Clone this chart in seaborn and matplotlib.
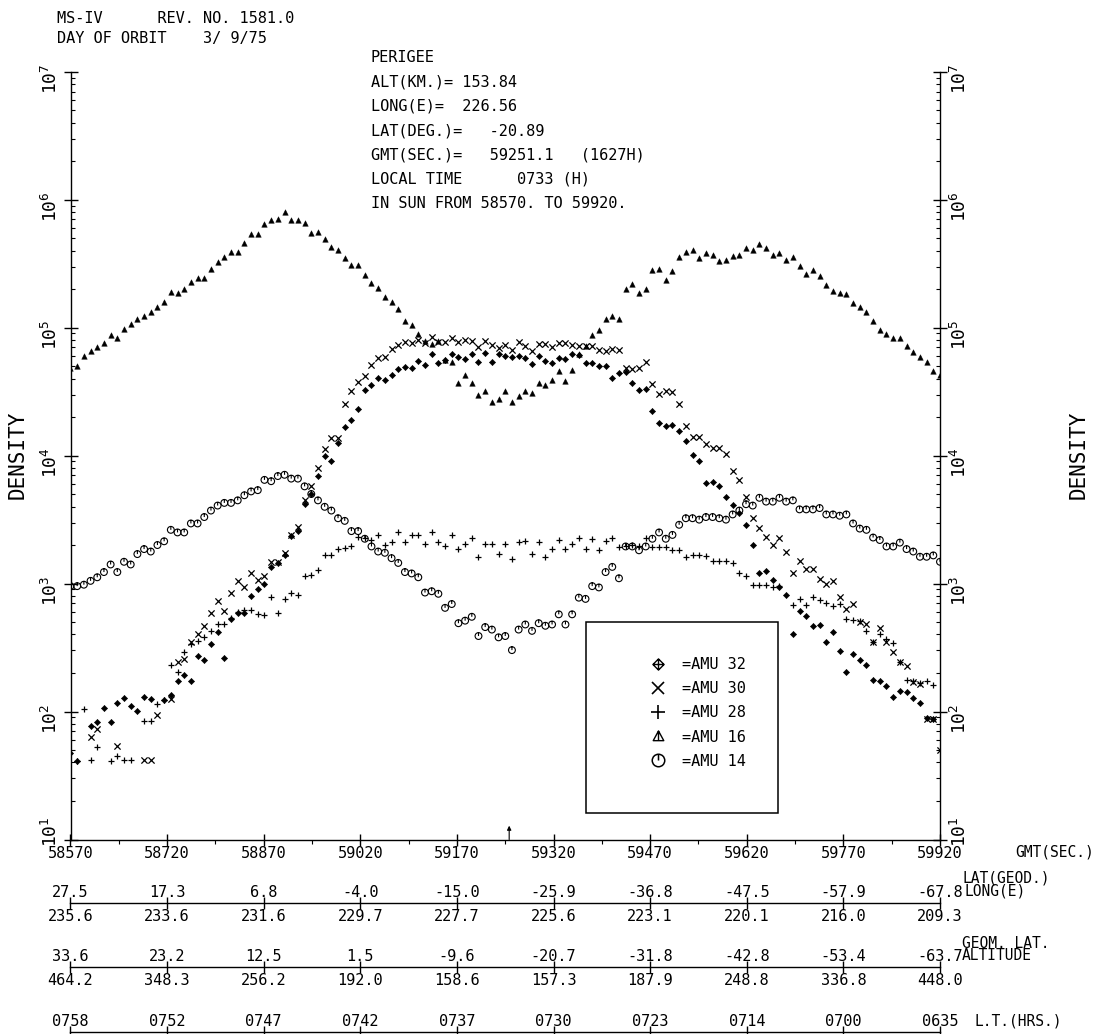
import numpy as np
import matplotlib
matplotlib.use("Agg")
import matplotlib.pyplot as plt
import seaborn as sns
from matplotlib.path import Path
from matplotlib.lines import Line2D
from matplotlib.patches import Rectangle
from matplotlib.transforms import ScaledTranslation
from matplotlib.ticker import FixedLocator, FuncFormatter, LogLocator, NullFormatter

nan = np.nan

# ---------------------------------------------------------------- data
# sample times (GMT seconds), one mass-spectrometer cycle every ~10.4 s
GMT_SEC = np.linspace(58570.0, 59920.0, 131)

AMU_16 = [4.8e4, 5.0e4, 6.0e4, 6.6e4, 7.1e4, 7.6e4, 8.7e4, 8.3e4, 9.8e4, 1.07e5,
          1.17e5, 1.23e5, 1.32e5, 1.45e5, 1.58e5, 1.91e5, 1.86e5, 2.0e5, 2.29e5, 2.45e5,
          2.45e5, 2.88e5, 3.24e5, 3.55e5, 3.89e5, 3.89e5, 4.57e5, 5.37e5, 5.37e5, 6.46e5,
          6.92e5, 7.08e5, 7.94e5, 6.92e5, 6.92e5, 6.61e5, 5.50e5, 5.62e5, 4.90e5, 4.27e5,
          4.07e5, 3.47e5, 3.09e5, 3.09e5, 2.57e5, 2.24e5, 2.04e5, 1.74e5, 1.58e5, 1.41e5,
          1.12e5, 1.05e5, 8.9e4, 7.8e4, 7.4e4, 7.8e4, 5.6e4, 5.4e4, 3.7e4, 4.3e4,
          3.7e4, 3.0e4, 3.2e4, 2.6e4, 2.75e4, 3.2e4, 2.6e4, 2.9e4, 3.2e4, 3.1e4,
          3.7e4, 3.55e4, 3.9e4, 4.6e4, 3.8e4, 4.7e4, 6.2e4, 7.2e4, 8.7e4, 9.5e4,
          1.17e5, 1.23e5, 1.17e5, 2.0e5, 2.19e5, 1.86e5, 2.0e5, 2.82e5, 2.88e5, 2.34e5,
          2.75e5, 3.55e5, 3.89e5, 4.07e5, 3.47e5, 3.80e5, 3.72e5, 3.31e5, 3.39e5, 3.63e5,
          3.72e5, 4.17e5, 4.07e5, 4.47e5, 4.17e5, 3.72e5, 3.80e5, 3.39e5, 3.55e5, 3.02e5,
          2.63e5, 2.82e5, 2.51e5, 2.14e5, 1.95e5, 1.86e5, 1.82e5, 1.55e5, 1.45e5, 1.32e5,
          1.12e5, 9.5e4, 8.9e4, 8.3e4, 8.3e4, 7.2e4, 6.5e4, 5.9e4, 5.4e4, 4.6e4,
          4.3e4]

AMU_14 = [955, 955, 980, 1050, 1120, 1230, 1410, 1230, 1480, 1410,
          1700, 1860, 1780, 2000, 2140, 2630, 2510, 2510, 2950, 2950,
          3310, 3720, 4070, 4270, 4270, 4470, 4900, 5250, 5370, 6460,
          6310, 6920, 7080, 6610, 6610, 5750, 5010, 4470, 3980, 3720,
          3240, 3090, 2570, 2570, 2240, 1950, 1780, 1740, 1580, 1450,
          1230, 1200, 1120, 851, 871, 832, 646, 692, 490, 513,
          550, 389, 457, 437, 380, 389, 302, 437, 479, 427,
          490, 468, 479, 575, 479, 575, 776, 759, 955, 933,
          1230, 1350, 1100, 1950, 1950, 1820, 1950, 2240, 2510, 2240,
          2400, 2880, 3240, 3240, 3160, 3310, 3310, 3240, 3160, 3470,
          3720, 4170, 4070, 4680, 4370, 4370, 4680, 4370, 4470, 3800,
          3800, 3800, 3890, 3470, 3470, 3390, 3470, 2950, 2690, 2630,
          2290, 2190, 1950, 1950, 2090, 1860, 1780, 1620, 1620, 1660,
          1480]

AMU_32 = [47, 41, nan, 77, 83, 107, 83, 117, 127, 111,
          101, 130, 126, nan, 123, 135, 172, 194, 174, 273,
          254, 339, 415, 261, 525, 589, 589, 794, 912, 1000,
          1340, 1450, 1680, 2360, 2570, 4170, 5010, 6920, 10000, 9120,
          12600, 16600, 19100, 23200, 32400, 35500, 40300, 38900, 42700, 47300,
          49000, 48200, 55000, 51300, 61700, 52500, 56200, 62400, 58900, 57000,
          61700, 53700, 63100, 54300, 61700, 60300, 59400, 60300, 57500, 52000,
          60300, 55300, 52500, 57500, 57000, 62400, 61200, 52500, 52500, 50500,
          49700, 40700, 44100, 44700, 36800, 32400, 33100, 22400, 17900, 16900,
          17200, 15600, 13000, 10100, 9140, 6080, 6270, 5830, 4790, 4120,
          3550, 2880, 2010, 1200, 1260, 1060, 948, 817, 405, 612,
          553, 462, 476, 347, 415, 299, 202, 282, 251, 232,
          175, 172, 157, 129, 144, 141, 127, 116, 89, 87,
          nan]

AMU_30 = [nan, nan, nan, 63, 73, nan, nan, 54, nan, nan,
          nan, 42, 42, 94, nan, 125, 243, 258, 347, 405,
          468, 594, 733, 612, 851, 1050, 933, 1220, 1070, 1140,
          1480, 1480, 1730, 2400, 2790, 4460, 5740, 8040, 11200, 13800,
          13800, 25400, 32100, 37400, 42000, 51200, 57700, 59400, 67800, 73300,
          76900, 76400, 80200, 76400, 85100, 77800, 77800, 82600, 76900, 80200,
          78500, 70800, 78500, 73300, 69000, 73300, 67000, 76900, 71900, 65800,
          74600, 74600, 70300, 76400, 76400, 73300, 71900, 71900, 71900, 67000,
          65800, 67800, 67000, 48200, 47600, 48800, 53700, 36100, 30300, 32100,
          31300, 25200, 17100, 14100, 13900, 12400, 11400, 11400, 10300, 7620,
          6500, 4790, 3240, 2710, 2310, 2010, 2260, 1750, 1210, 1490,
          1300, 1300, 1080, 995, 1050, 783, 631, 695, 500, 485,
          347, 449, 347, 294, 246, 225, 169, 164, 87, 87,
          50]

AMU_28 = [nan, 41, 104, 42, 53, nan, 41, 45, 42, 42,
          nan, 84, 85, 115, 124, 232, 202, 290, 340, 353,
          381, 423, 485, 485, 540, 600, 624, 617, 581, 570,
          792, 587, 755, 841, 817, 1150, 1170, 1280, 1660, 1660,
          1860, 1890, 1950, 2310, 2260, 2200, 2400, 2010, 2130, 2550,
          2130, 2400, 2400, 2050, 2510, 2130, 1950, 2400, 1860, 2050,
          2260, 1610, 2050, 2050, 1710, 2050, 1550, 2130, 2170, 1710,
          2100, 1610, 1860, 2200, 1860, 2050, 2260, 1860, 2220, 1820,
          2160, 2260, 1930, 1950, 1990, 1950, 2260, 1930, 1930, 1930,
          1820, 1820, 1610, 1680, 1680, 1630, 1510, 1510, 1510, 1450,
          1220, 1140, 977, 977, 977, 938, 960, nan, 682, 755,
          682, 792, 738, 703, 670, 695, 527, 521, 506, 428,
          350, 400, 368, 343, 246, 177, 172, 167, 172, 160,
          nan]

GMT_TICKS = [58570, 58720, 58870, 59020, 59170, 59320, 59470, 59620, 59770, 59920]
LAT_GEOD = [27.5, 17.3, 6.8, -4.0, -15.0, -25.9, -36.8, -47.5, -57.9, -67.8]
LONG_E = [235.6, 233.6, 231.6, 229.7, 227.7, 225.6, 223.1, 220.1, 216.0, 209.3]
GEOM_LAT = [33.6, 23.2, 12.5, 1.5, -9.6, -20.7, -31.8, -42.8, -53.4, -63.7]
ALTITUDE = [464.2, 348.3, 256.2, 192.0, 158.6, 157.3, 187.9, 248.8, 336.8, 448.0]
LOCAL_TIME = ["0758", "0752", "0747", "0742", "0737", "0730", "0723", "0714", "0700", "0635"]
PERIGEE_GMT = 59251.1

HEADER = ["MS-IV      REV. NO. 1581.0", "DAY OF ORBIT    3/ 9/75"]
INFO = ["PERIGEE",
        "ALT(KM.)= 153.84",
        "LONG(E)=  226.56",
        "LAT(DEG.)=   -20.89",
        "GMT(SEC.)=   59251.1   (1627H)",
        "LOCAL TIME      0733 (H)",
        "IN SUN FROM 58570. TO 59920."]
LEGEND_LABELS = ["=AMU 32", "=AMU 30", "=AMU 28", "=AMU 16", "=AMU 14"]

# ---------------------------------------------------------------- style
sns.set_theme(style="white")
plt.rcParams["font.family"] = ["DejaVu Sans Mono", "DejaVu Sans"]
plt.rcParams.update({
    "mathtext.fontset": "custom",
    "mathtext.rm": "DejaVu Sans Mono",
    "mathtext.it": "DejaVu Sans Mono",
    "text.color": "black",
    "axes.edgecolor": "black",
    "axes.labelcolor": "black",
    "xtick.color": "black",
    "ytick.color": "black",
    "axes.linewidth": 1.0,
})

W, H = 1095, 1034
fig = plt.figure(figsize=(W / 100, H / 100), dpi=100)
fig.patch.set_facecolor("white")


def fx(px):
    return px / W


def fy(py):
    return 1 - py / H


X0, X1, YT, YB = 70.5, 940.0, 71.7, 839.5
ax = fig.add_axes([fx(X0), fy(YB), fx(X1) - fx(X0), fy(YT) - fy(YB)])

# custom plotter-like marker shapes
MV, LN, CL = Path.MOVETO, Path.LINETO, Path.CLOSEPOLY
circle_tick = Path.make_compound_path(Path.unit_circle(),
                                      Path([(0, 1), (0, 0)], [MV, LN]))
tri_line = Path.make_compound_path(
    Path([(0, 1), (-0.95, -0.75), (0.95, -0.75), (0, 1)], [MV, LN, LN, CL]),
    Path([(0, 1), (0, -0.75)], [MV, LN]))
diamond_plus = Path.make_compound_path(
    Path([(0, 1), (1, 0), (0, -1), (-1, 0), (0, 1)], [MV, LN, LN, LN, CL]),
    Path([(-1, 0), (1, 0)], [MV, LN]),
    Path([(0, 1), (0, -1)], [MV, LN]))

sns.scatterplot(x=GMT_SEC, y=AMU_16, ax=ax, marker="^", s=16, color="black",
                edgecolor="black", linewidth=0.3, legend=False)
sns.scatterplot(x=GMT_SEC, y=AMU_14, ax=ax, marker=circle_tick, s=24, color="black",
                facecolor="none", edgecolor="black", linewidth=0.8, legend=False)
sns.scatterplot(x=GMT_SEC, y=AMU_32, ax=ax, marker="D", s=10, color="black",
                edgecolor="black", linewidth=0.4, legend=False)
sns.scatterplot(x=GMT_SEC, y=AMU_30, ax=ax, marker="x", s=20, color="black",
                linewidth=0.9, legend=False)
sns.scatterplot(x=GMT_SEC, y=AMU_28, ax=ax, marker="+", s=24, color="black",
                linewidth=0.9, legend=False)

ax.set_yscale("log")
ax.set_ylim(10, 1e7)
ax.set_xlim(GMT_TICKS[0], GMT_TICKS[-1])
ax.set_xlabel("")
ax.set_ylabel("")

ax.spines["top"].set_visible(False)
for s in ("left", "right", "bottom"):
    ax.spines[s].set_color("black")
    ax.spines[s].set_linewidth(1.0)

ax.yaxis.set_major_locator(FixedLocator([10.0 ** k for k in range(1, 8)]))
ax.yaxis.set_major_formatter(FuncFormatter(
    lambda v, pos: r"$\mathregular{10^{%d}}$" % int(round(np.log10(v)))))
ax.yaxis.set_minor_locator(LogLocator(base=10, subs=np.arange(2, 10), numticks=30))
ax.yaxis.set_minor_formatter(NullFormatter())
ax.tick_params(axis="y", which="major", direction="inout", length=10, width=1,
               labelsize=13, labelrotation=90, left=True, right=True,
               labelleft=True, labelright=True, pad=2)
ax.tick_params(axis="y", which="minor", direction="in", length=3, width=0.8,
               left=True, right=True)

ax.set_xticks(GMT_TICKS)
ax.set_xticklabels([str(t) for t in GMT_TICKS])
ax.set_xticks([t + 75 for t in GMT_TICKS[:-1]], minor=True)
ax.tick_params(axis="x", which="major", direction="inout", length=9, width=1,
               labelsize=11, pad=0, bottom=True)
ax.tick_params(axis="x", which="minor", direction="out", length=3, width=0.8, bottom=True)
ax.grid(False)

# lift the lowest decade labels so they clear the GMT labels
lift = ScaledTranslation(0, 11 / 72, fig.dpi_scale_trans)
bottom_tick = ax.yaxis.get_major_ticks()[0]
bottom_tick.label1.set_transform(bottom_tick.label1.get_transform() + lift)
bottom_tick.label2.set_transform(bottom_tick.label2.get_transform() + lift)

# perigee marker
ax.annotate("", xy=(PERIGEE_GMT, 0.018), xycoords=("data", "axes fraction"),
            xytext=(PERIGEE_GMT, 0.0), textcoords=("data", "axes fraction"),
            arrowprops=dict(arrowstyle="-|>", lw=0.8, color="black",
                            mutation_scale=6, shrinkA=0, shrinkB=0))

# legend box
ax.add_patch(Rectangle((fx(586), fy(813)), fx(778) - fx(586), (813 - 622) / H,
                       transform=fig.transFigure, facecolor="white",
                       edgecolor="black", lw=1.1, zorder=4))
handles = [
    Line2D([], [], ls="none", marker=diamond_plus, ms=8, mfc="none", mec="black", mew=1.0),
    Line2D([], [], ls="none", marker="x", ms=9, mec="black", mew=1.2),
    Line2D([], [], ls="none", marker="+", ms=10, mec="black", mew=1.2),
    Line2D([], [], ls="none", marker=tri_line, ms=8, mfc="none", mec="black", mew=1.0),
    Line2D([], [], ls="none", marker=circle_tick, ms=9, mfc="none", mec="black", mew=1.1),
]
leg = ax.legend(handles, LEGEND_LABELS, loc="upper left",
                bbox_to_anchor=(fx(648), fy(657)), bbox_transform=fig.transFigure,
                frameon=False, handlelength=1.3, handletextpad=0.9,
                labelspacing=0.6, borderpad=0, borderaxespad=0, fontsize=11)
leg.set_zorder(6)

# ---------------------------------------------------------------- secondary scales


def add_row(line_y, top_labels, bottom_labels):
    rax = fig.add_axes([fx(X0), fy(line_y), fx(X1) - fx(X0), 1e-5])
    rax.set_xlim(GMT_TICKS[0], GMT_TICKS[-1])
    rax.patch.set_alpha(0)
    for s in ("left", "right", "top"):
        rax.spines[s].set_visible(False)
    rax.spines["bottom"].set_color("black")
    rax.spines["bottom"].set_linewidth(1.0)
    rax.set_yticks([])
    rax.set_xticks(GMT_TICKS)
    rax.set_xticklabels(bottom_labels if bottom_labels else [""] * len(GMT_TICKS))
    rax.tick_params(axis="x", direction="inout", length=9, width=1, pad=0,
                    labelsize=11, bottom=True)
    rax.grid(False)
    tax = rax.twiny()
    tax.set_xlim(GMT_TICKS[0], GMT_TICKS[-1])
    tax.set_xticks(GMT_TICKS)
    tax.set_xticklabels(top_labels)
    tax.tick_params(axis="x", length=0, pad=2, labelsize=11, top=True, labeltop=True)
    for s in tax.spines.values():
        s.set_visible(False)
    tax.grid(False)


add_row(902.5, ["%.1f" % v for v in LAT_GEOD], ["%.1f" % v for v in LONG_E])
add_row(967.0, ["%.1f" % v for v in GEOM_LAT], ["%.1f" % v for v in ALTITUDE])
add_row(1031.5, LOCAL_TIME, None)

# ---------------------------------------------------------------- texts
fig.text(fx(57), fy(18), HEADER[0], ha="left", va="center", fontsize=11)
fig.text(fx(57), fy(39), HEADER[1], ha="left", va="center", fontsize=11)
for k, line in enumerate(INFO):
    fig.text(fx(370.7), fy(58 + 24.2 * k), line, ha="left", va="center", fontsize=11)

fig.text(fx(18), fy(455), "DENSITY", rotation=90, ha="center", va="center", fontsize=15)
fig.text(fx(1079), fy(455), "DENSITY", rotation=90, ha="center", va="center", fontsize=15)

fig.text(fx(1094), fy(852), "GMT(SEC.)", ha="right", va="center", fontsize=10.5)
fig.text(fx(962), fy(878), "LAT(GEOD.)", ha="left", va="center", fontsize=10.5)
fig.text(fx(964), fy(891), "LONG(E)", ha="left", va="center", fontsize=10.5)
fig.text(fx(962), fy(943), "GEOM. LAT.", ha="left", va="center", fontsize=10.5)
fig.text(fx(962), fy(956), "ALTITUDE", ha="left", va="center", fontsize=10.5)
fig.text(fx(975), fy(1021), "L.T.(HRS.)", ha="left", va="center", fontsize=10.5)

fig.savefig("out.png", dpi=100, facecolor="white")
